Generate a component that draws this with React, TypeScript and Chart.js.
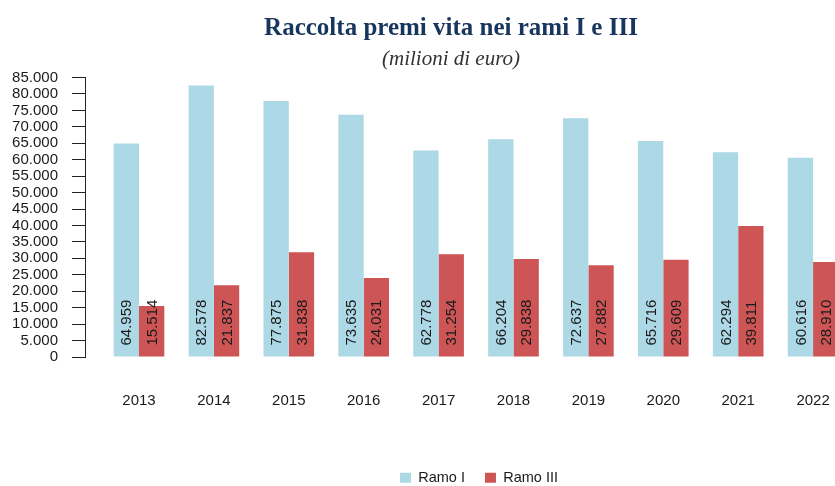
import React, { useEffect, useRef } from "react";
import { Chart, registerables } from "chart.js";

Chart.register(...registerables);

const years = [2013, 2014, 2015, 2016, 2017, 2018, 2019, 2020, 2021, 2022];
const ramoI = [64959, 82578, 77875, 73635, 62778, 66204, 72637, 65716, 62294, 60616];
const ramoIII = [15514, 21837, 31838, 24031, 31254, 29838, 27882, 29609, 39811, 28910];
const seriesLabels = ["Ramo I", "Ramo III"];
const titleText = "Raccolta premi vita nei rami I e III";
const subtitleText = "(milioni di euro)";

const fmt = (v: number) => String(Math.round(v)).replace(/\B(?=(\d{3})+(?!\d))/g, ".");

const barLabels = {
  id: "barLabels",
  afterDatasetsDraw(chart: any) {
    const ctx = chart.ctx;
    ctx.save();
    ctx.font = "15px 'Liberation Sans', Arial, sans-serif";
    ctx.fillStyle = "#1a1a1a";
    ctx.textAlign = "left";
    ctx.textBaseline = "middle";
    chart.data.datasets.forEach((ds: any, i: number) => {
      const meta = chart.getDatasetMeta(i);
      meta.data.forEach((bar: any, j: number) => {
        const p = bar.getProps(["x", "base"], true);
        const v = ds.data[j].y;
        ctx.save();
        ctx.translate(p.x + 1, p.base - 11);
        ctx.rotate(-Math.PI / 2);
        ctx.fillText(fmt(v), 0, 0);
        ctx.restore();
      });
    });
    ctx.restore();
  },
};

export default function App() {
  const ref = useRef<HTMLCanvasElement | null>(null);
  useEffect(() => {
    document.body.style.margin = "0";
    Chart.defaults.font.family = "'Liberation Sans', Arial, sans-serif";
    Chart.defaults.color = "#1a1a1a";
    const chart = new Chart(ref.current as HTMLCanvasElement, {
      type: "bar",
      data: {
        datasets: [
          {
            label: seriesLabels[0],
            data: years.map((y, i) => ({ x: y, y: ramoI[i] })),
            backgroundColor: "#add8e6",
            borderWidth: 0,
          },
          {
            label: seriesLabels[1],
            data: years.map((y, i) => ({ x: y, y: ramoIII[i] })),
            backgroundColor: "#cd5555",
            borderWidth: 0,
          },
        ],
      },
      options: {
        animation: false,
        responsive: false,
        events: [],
        layout: { padding: { left: 29, right: 29, top: 0, bottom: 0 } },
        datasets: { bar: { categoryPercentage: 0.676, barPercentage: 1 } },
        scales: {
          x: {
            type: "linear",
            offset: false,
            min: 2012.279,
            max: 2022.8,
            grid: { display: false, drawTicks: true, tickLength: 35 },
            border: { display: false },
            afterBuildTicks: (axis: any) => {
              axis.ticks = years.map((v) => ({ value: v }));
            },
            afterFit: (s: any) => {
              s.height = 93.5;
              s.paddingLeft = 0;
              s.paddingRight = 0;
            },
            ticks: {
              padding: 0,
              autoSkip: false,
              maxRotation: 0,
              font: { size: 15 },
              callback: (v: any) => String(v),
            },
          },
          y: {
            min: 0,
            max: 85000,
            afterFit: (s: any) => {
              s.width = 56;
              // let the tick labels extend into the left padding
              s._computeLabelArea = () => undefined;
            },
            grid: { drawOnChartArea: false, drawTicks: true, tickLength: 13, color: "#222" },
            border: { display: true, color: "#222", width: 1 },
            ticks: {
              stepSize: 5000,
              autoSkip: false,
              padding: 14,
              font: { size: 15 },
              callback: (v: any) => fmt(Number(v)),
            },
          },
        },
        plugins: {
          tooltip: { enabled: false },
          title: {
            display: true,
            text: titleText,
            color: "#17365d",
            font: { family: "'Liberation Serif', 'Times New Roman', serif", size: 25, weight: "bold" },
            padding: { top: 14, bottom: 0 },
          },
          subtitle: {
            display: true,
            text: subtitleText,
            color: "#333333",
            font: { family: "'Liberation Serif', 'Times New Roman', serif", size: 21, style: "italic" },
            padding: { top: 3, bottom: 5.3 },
          },
          legend: {
            position: "bottom",
            fullSize: false,
            labels: {
              boxWidth: 11,
              boxHeight: 10,
              padding: 20,
              color: "#1a1a1a",
              font: { size: 14.5 },
            },
          },
        },
      },
      plugins: [barLabels],
    } as any);
    return () => chart.destroy();
  }, []);
  return (
    <div style={{ position: "absolute", left: 0, top: 0, width: 835, height: 486, overflow: "hidden", background: "#fff" }}>
      <canvas ref={ref} width={902} height={495} style={{ width: 902, height: 495, display: "block" }} />
    </div>
  );
}
